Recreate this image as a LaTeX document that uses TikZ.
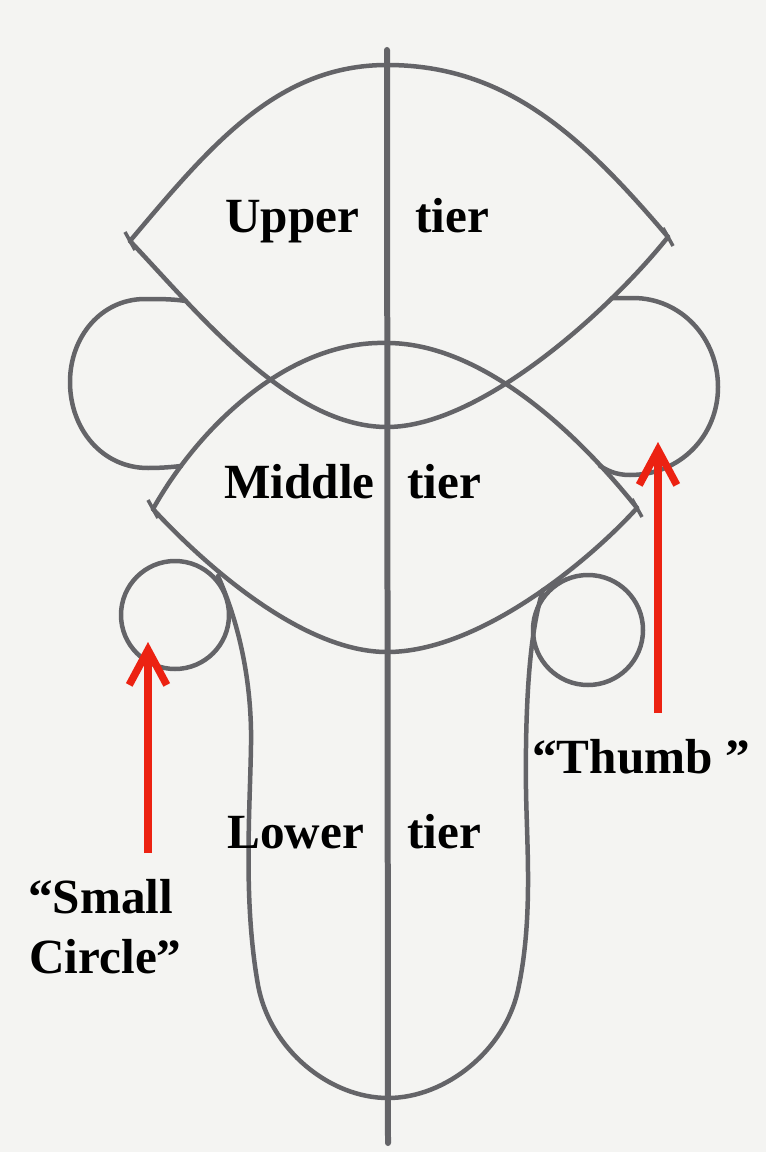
\documentclass[tikz,border=0pt]{standalone}
\usepackage{fontspec}
\setmainfont{Liberation Serif}
\usepackage{tikz}
\usetikzlibrary{arrows.meta}
\definecolor{SketchGray}{RGB}{100,100,104}
\definecolor{PaperWhite}{RGB}{244,244,242}
\definecolor{PointerRed}{RGB}{236,34,18}

\begin{document}
\begin{tikzpicture}[
  x=0.02cm, y=-0.02cm,
  outline/.style={
    draw=SketchGray,
    line width=0.09cm,
    line join=round,
    line cap=round
  },
  midline/.style={
    draw=SketchGray,
    line width=0.12cm,
    line cap=round
  },
  tipmark/.style={
    draw=SketchGray,
    line width=0.07cm
  },
  tiertext/.style={
    anchor=base west,
    inner sep=0pt,
    font=\fontsize{28}{34}\selectfont\bfseries
  },
  pointer/.style={
    draw=PointerRed,
    line width=0.15cm,
    -{Straight Barb[length=7mm,width=7.5mm]}
  }
]
\useasboundingbox (0,0) rectangle (766,1152);
\fill[PaperWhite] (0,0) rectangle (766,1152);

\coordinate (ul) at (130,241);
\coordinate (ur) at (668,237);
\coordinate (ut) at (387,65);
\coordinate (ub) at (387,427);
\coordinate (ml) at (153,509);
\coordinate (mr) at (637,508);
\coordinate (mt) at (387,343);
\coordinate (mb) at (387,652);
\coordinate (ctop) at (387,50);
\coordinate (cbot) at (388,1143);

\draw[outline] (ul) .. controls (210,146) and (277,65) .. (ut) .. controls (507,65) and (583,137) .. (ur);
\draw[outline] (ul) .. controls (200,315) and (290,427) .. (ub) .. controls (480,427) and (608,312) .. (ur);
\draw[outline] (ml) .. controls (200,425) and (290,340) .. (mt) .. controls (467,343) and (557,408) .. (mr);
\draw[outline] (ml) .. controls (200,560) and (300,652) .. (mb) .. controls (480,652) and (590,560) .. (mr);

\foreach \tip in {ul,ur,ml,mr}
  \draw[tipmark] ([shift={(-5,-9)}]\tip) -- ([shift={(5,9)}]\tip);

\draw[outline] (186,301) .. controls (172,299) and (160,299) .. (145,299)
  .. controls (101,299) and (70,337) .. (70,382)
  .. controls (70,429) and (102,468) .. (148,468)
  .. controls (162,468) and (172,467) .. (181,466);
\draw[outline] (612,298) .. controls (620,298) and (627,298) .. (633,298)
  .. controls (681,298) and (718,338) .. (718,387)
  .. controls (718,436) and (680,475) .. (630,475)
  .. controls (615,475) and (607,470) .. (600,466);

\draw[outline] (175,615) circle[radius=54];
\draw[outline] (588,630) circle[radius=55];

\draw[outline] (218,576) .. controls (242,630) and (252,690) .. (251,745)
  .. controls (250,810) and (243,900) .. (258,985)
  .. controls (270,1050) and (330,1098) .. (388,1098)
  .. controls (446,1098) and (505,1050) .. (518,990)
  .. controls (533,920) and (527,850) .. (526,790)
  .. controls (525,700) and (530,630) .. (543,590);

\draw[midline] (ctop) -- (cbot);

\node[tiertext] (upperL) at (225,233) {Upper};
\node[tiertext] (upperR) at (415,233) {tier};
\node[tiertext] (middleL) at (224,498) {Middle};
\node[tiertext] (middleR) at (407,498) {tier};
\node[tiertext] (lowerL) at (227,848) {Lower};
\node[tiertext] (lowerR) at (407,848) {tier};
\node[tiertext] (thumb) at (532,773) {“Thumb ”};
\node[tiertext] (small) at (28,913) {“Small};
\node[tiertext] (circle) at (29,973) {Circle”};

\coordinate (scfoot) at (148,853);
\coordinate (sctip) at (148,642);
\coordinate (thfoot) at (658,713);
\coordinate (thtip) at (658,442);
\draw[pointer] (scfoot) -- (sctip);
\draw[pointer] (thfoot) -- (thtip);
\end{tikzpicture}
\end{document}
